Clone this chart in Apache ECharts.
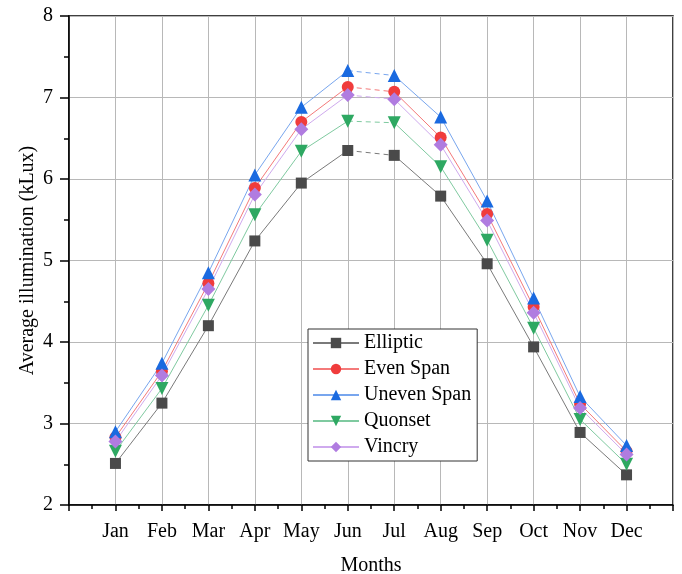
<!DOCTYPE html>
<html>
<head>
<meta charset="utf-8">
<script src="https://cdn.jsdelivr.net/npm/echarts@6/dist/echarts.min.js"></script>
<style>
html,body{margin:0;padding:0;background:#fff;}
#chart{width:682px;height:574px;}
</style>
</head>
<body>
<div id="chart"></div>
<script>
const months = ['Jan','Feb','Mar','Apr','May','Jun','Jul','Aug','Sep','Oct','Nov','Dec'];
const elliptic  = [2.51, 3.25, 4.20, 5.24, 5.95, 6.35, 6.29, 5.79, 4.96, 3.94, 2.89, 2.37];
const evenSpan  = [2.83, 3.64, 4.72, 5.89, 6.70, 7.13, 7.07, 6.51, 5.57, 4.43, 3.24, 2.66];
const unevenSpan= [2.90, 3.74, 4.85, 6.05, 6.88, 7.33, 7.27, 6.76, 5.73, 4.54, 3.33, 2.73];
const quonset   = [2.66, 3.43, 4.45, 5.56, 6.34, 6.71, 6.69, 6.15, 5.25, 4.17, 3.05, 2.50];
const vincry    = [2.78, 3.59, 4.65, 5.81, 6.61, 7.03, 6.98, 6.42, 5.49, 4.36, 3.19, 2.62];
const yTicks = [2, 3, 4, 5, 6, 7, 8];

const seriesDefs = [
  {name: 'Elliptic',    data: elliptic,   color: '#4a4a4a', line: '#7a7a7a', symbol: 'rect',     size: 11},
  {name: 'Even Span',   data: evenSpan,   color: '#f03c3c', line: '#f47a7a', symbol: 'circle',   size: 12},
  {name: 'Uneven Span', data: unevenSpan, color: '#1a6ae0', line: '#78a6ee', symbol: 'triangle', size: 13},
  {name: 'Quonset',     data: quonset,    color: '#2ea862', line: '#7fcaa0', symbol: 'path://M0,0L10,0L5,9Z', size: 13},
  {name: 'Vincry',      data: vincry,     color: '#b07ce0', line: '#cfaaee', symbol: 'diamond',  size: 14}
];

const font = 'Liberation Serif';
const series = [];
const splitIdx = 6; // Jun->Jul segment dashed
seriesDefs.forEach(d => {
  const pts = d.data.map((v, i) => [i + 1, v]);
  const base = {
    name: d.name, type: 'line', symbol: d.symbol, symbolSize: d.size,
    itemStyle: {color: d.color},
    lineStyle: {color: d.line, width: 1},
    emphasis: {disabled: true}, z: 3
  };
  series.push(Object.assign({}, base, {data: pts.slice(0, splitIdx)}));
  series.push(Object.assign({}, base, {data: pts.slice(splitIdx)}));
  series.push({
    name: d.name, type: 'line', showSymbol: false, symbol: 'none',
    data: pts.slice(splitIdx - 1, splitIdx + 1),
    lineStyle: {color: d.line, width: 1, type: [5, 4]},
    emphasis: {disabled: true}, z: 2
  });
});

const chart = echarts.init(document.getElementById('chart'));
chart.setOption({
  animation: false,
  backgroundColor: '#fff',
  textStyle: {fontFamily: font},
  grid: {left: 69, right: 9, top: 16, bottom: 69, containLabel: false, outerBoundsMode: 'none',
         show: true, borderColor: '#000', borderWidth: 1.5, backgroundColor: 'transparent'},
  legend: {
    data: seriesDefs.map(d => d.name),
    orient: 'vertical', left: 308, top: 329,
    itemWidth: 46, itemHeight: 13, itemGap: 6,
    padding: [4, 6, 4, 4],
    borderColor: '#333', borderWidth: 1, backgroundColor: '#fff',
    textStyle: {fontFamily: font, fontSize: 20, color: '#000', padding: [0, 0, 0, 0]},
    selectedMode: false
  },
  xAxis: {
    type: 'value', min: 0, max: 13, interval: 1,
    name: 'Months', nameLocation: 'middle', nameGap: 51, nameMoveOverlap: false,
    nameTextStyle: {fontFamily: font, fontSize: 20, color: '#000'},
    axisLine: {show: true, lineStyle: {color: '#000', width: 1.5}},
    axisTick: {show: true, inside: false, length: 6, lineStyle: {color: '#000', width: 1.5}},
    minorTick: {show: true, splitNumber: 2, length: 4, lineStyle: {color: '#000', width: 1.5}},
    axisLabel: {
      fontFamily: font, fontSize: 20, color: '#000', margin: 17,
      formatter: v => (v >= 1 && v <= 12) ? months[v - 1] : ''
    },
    splitLine: {show: true, lineStyle: {color: '#b8b8b8', width: 1}},
    minorSplitLine: {show: false}
  },
  yAxis: {
    type: 'value', min: yTicks[0], max: yTicks[yTicks.length - 1], interval: 1,
    name: 'Average illumination (kLux)', nameLocation: 'middle', nameGap: 31, nameMoveOverlap: false,
    nameTextStyle: {fontFamily: font, fontSize: 20, color: '#000'},
    axisLine: {show: true, lineStyle: {color: '#000', width: 1.5}},
    axisTick: {show: true, inside: false, length: 9, lineStyle: {color: '#000', width: 1.5}},
    minorTick: {show: true, splitNumber: 2, length: 5, lineStyle: {color: '#000', width: 1.5}},
    axisLabel: {fontFamily: font, fontSize: 20, color: '#000', margin: 16},
    splitLine: {show: true, lineStyle: {color: '#b8b8b8', width: 1}}
  },
  series: series
});
</script>
</body>
</html>
